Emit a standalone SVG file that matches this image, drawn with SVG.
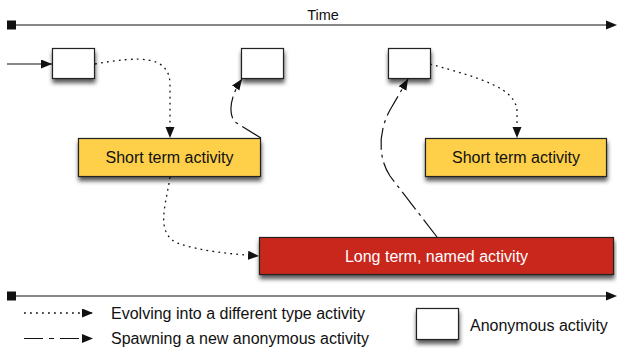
<svg xmlns="http://www.w3.org/2000/svg" width="617" height="348" viewBox="0 0 617 348">
<style>
.box{stroke:#222;stroke-width:1.2;filter:url(#sh)}
.anon{fill:#fff}
.short{fill:#fecf49}
.long{fill:#c9261a}
.lbl{font-family:"Liberation Sans",Arial,sans-serif;font-size:16px;fill:#111}
.conn{fill:none;stroke:#111;stroke-width:1.2}
.dot{stroke-dasharray:1.8 4.2;stroke-width:1.3}
.dd{stroke-dasharray:22 5 3 5}
</style>
<defs>
<filter id="sh" x="-30%" y="-30%" width="160%" height="190%">
<feDropShadow dx="0.5" dy="4" stdDeviation="2.2" flood-color="#000" flood-opacity="0.65"/>
</filter>
<marker id="ah" markerUnits="userSpaceOnUse" markerWidth="12" markerHeight="10" refX="11" refY="4.5" orient="auto">
<path d="M0,0 L11,4.5 L0,9 z" fill="#111"/>
</marker>
</defs>

<g id="timeline-top">
<line x1="12" y1="25" x2="606" y2="25" stroke="#111" stroke-width="1.2"/>
<rect x="7" y="20.5" width="9" height="9" fill="#111"/>
<path d="M606,20.5 L617,25 L606,29.5 z" fill="#111"/>
<text x="323" y="20" text-anchor="middle" class="lbl" style="font-size:14.5px">Time</text>
</g>

<g id="timeline-bottom">
<line x1="12" y1="296" x2="606" y2="296" stroke="#111" stroke-width="1.2"/>
<rect x="7" y="291.5" width="9" height="9" fill="#111"/>
<path d="M606,291.5 L617,296 L606,300.5 z" fill="#111"/>
</g>

<g id="connectors">
<line class="conn" x1="7" y1="64" x2="52" y2="64" marker-end="url(#ah)"/>
<path class="conn dot" d="M95,64 C140,56 170,55 170,85 L170,138" marker-end="url(#ah)"/>
<path class="conn dd" d="M261,138 L235,122 C228,114 230,96 242,79" marker-end="url(#ah)"/>
<path class="conn dot" d="M170,177 C166,205 155,232 177,243 C200,251 230,254 259,256" marker-end="url(#ah)"/>
<path class="conn dd" d="M437,237 L390,176 C378,158 378,132 390,110 L408,79" marker-end="url(#ah)"/>
<path class="conn dot" d="M430,64 C480,78 517,88 517,112 L517,138" marker-end="url(#ah)"/>
</g>

<g id="anon1"><rect class="box anon" x="52.5" y="48.5" width="42" height="30"/></g>
<g id="anon2"><rect class="box anon" x="241.5" y="48.5" width="42" height="30"/></g>
<g id="anon3"><rect class="box anon" x="388.5" y="48.5" width="42" height="30"/></g>

<g id="short1">
<rect class="box short" x="78.5" y="138.5" width="182" height="38"/>
<text class="lbl" x="169.5" y="163" text-anchor="middle">Short term activity</text>
</g>
<g id="short2">
<rect class="box short" x="425.5" y="138.5" width="181" height="38"/>
<text class="lbl" x="516" y="163" text-anchor="middle">Short term activity</text>
</g>
<g id="long">
<rect class="box long" x="259.5" y="237.5" width="354" height="37"/>
<text class="lbl" x="436.5" y="262" text-anchor="middle" style="fill:#fff">Long term, named activity</text>
</g>

<g id="legend">
<line class="conn dot" x1="24" y1="313" x2="93" y2="313" marker-end="url(#ah)"/>
<text class="lbl" x="111" y="319">Evolving into a different type activity</text>
<line class="conn" x1="24" y1="338.5" x2="93" y2="338.5" style="stroke-dasharray:19 6 5 6" marker-end="url(#ah)"/>
<text class="lbl" x="111" y="344">Spawning a new anonymous activity</text>
<rect class="box anon" x="416.5" y="308.5" width="42" height="31"/>
<text class="lbl" x="470" y="331">Anonymous activity</text>
</g>
</svg>
